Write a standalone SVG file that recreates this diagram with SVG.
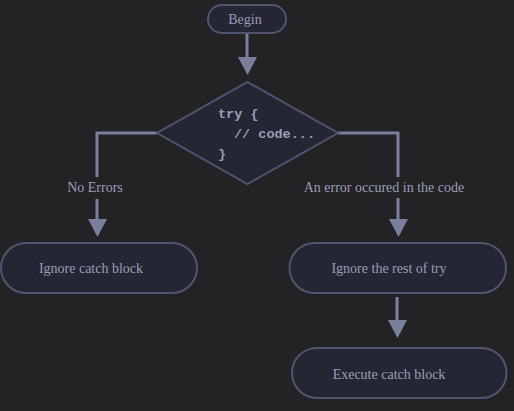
<svg xmlns="http://www.w3.org/2000/svg" width="514" height="411" viewBox="0 0 514 411">
<style>
.bg{fill:#232326}
.node{fill:#252634;stroke:#51546f;stroke-width:2}
.lbl{font-family:"Liberation Serif",serif;font-size:14px;fill:#9a9db6;text-anchor:middle;dominant-baseline:central}
.code{font-family:"Liberation Mono",monospace;font-size:13.5px;font-weight:bold;fill:#9a9db6}
.edge{fill:none;stroke:#7a7f9e;stroke-width:3}
.head{fill:#7a7f9e}
.elbl{font-family:"Liberation Serif",serif;font-size:14px;fill:#9a9db6;text-anchor:middle;dominant-baseline:central}
</style>
<rect class="bg" x="0" y="0" width="514" height="411"/>
<g id="connectors">
<path class="edge" d="M247,33 V57"/>
<polygon class="head" points="238,57 257,57 247.5,75"/>
<path class="edge" d="M157,133 H97 V177"/>
<path class="edge" d="M97,199 V219"/>
<polygon class="head" points="88,219 107,219 97.5,237"/>
<text class="elbl" x="95" y="187">No Errors</text>
<path class="edge" d="M338,133 H398 V177"/>
<path class="edge" d="M398,198 V219"/>
<polygon class="head" points="389,219 408,219 398.5,237"/>
<text class="elbl" x="384" y="187">An error occured in the code</text>
<path class="edge" d="M397,297 V320"/>
<polygon class="head" points="388,320 407,320 397.5,338"/>
</g>
<g id="begin">
<rect class="node" x="208" y="5" width="78" height="28" rx="14"/>
<text class="lbl" x="245" y="19">Begin</text>
</g>
<g id="try">
<polygon class="node" points="247.5,82 338,133 247.5,184 157,133"/>
<text class="code" x="218" y="118">try {</text>
<text class="code" x="234" y="138">// code...</text>
<text class="code" x="218" y="158">}</text>
</g>
<g id="ignoreCatch">
<rect class="node" x="1" y="243" width="196" height="50" rx="25"/>
<text class="lbl" x="91" y="268">Ignore catch block</text>
</g>
<g id="ignoreRest">
<rect class="node" x="289.5" y="243" width="216.5" height="50" rx="25"/>
<text class="lbl" x="389" y="268">Ignore the rest of try</text>
</g>
<g id="executeCatch">
<rect class="node" x="292" y="348" width="214.5" height="50" rx="25"/>
<text class="lbl" x="389" y="374">Execute catch block</text>
</g>
</svg>
